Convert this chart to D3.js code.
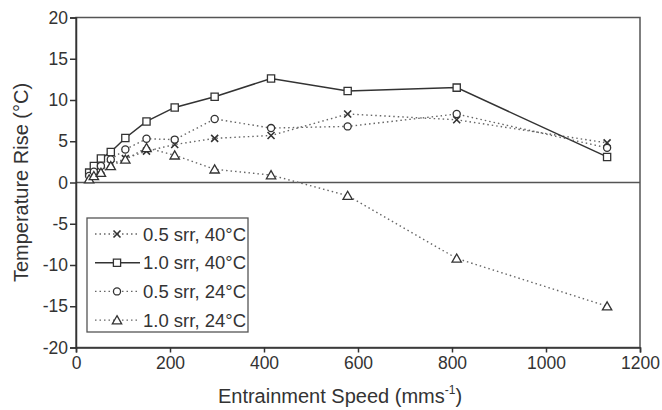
<!DOCTYPE html>
<html>
<head>
<meta charset="utf-8">
<script src="https://cdn.jsdelivr.net/npm/d3@7"></script>
<style>
  body { margin: 0; background: #fff; }
  svg { display: block; font-family: "Liberation Sans", Arial, sans-serif; }
  .axis text { fill: #333; font-size: 17.5px; }
  .axis path, .axis line { stroke: #333; stroke-width: 1.5; }
</style>
</head>
<body>
<script>
"use strict"

// Temperature rise vs entrainment speed

var speeds = [28, 38, 53, 74, 105, 150, 210, 295, 415, 578, 810, 1130]

var rise05at40 = [0.5, 1.0, 1.5, 2.2, 2.9, 3.8, 4.6, 5.35, 5.7, 8.3, 7.6, 4.8]
var rise10at40 = [1.2, 2.0, 2.9, 3.7, 5.4, 7.4, 9.1, 10.4, 12.6, 11.1, 11.5, 3.1]
var rise05at24 = [0.8, 1.3, 2.0, 2.8, 4.0, 5.3, 5.2, 7.7, 6.6, 6.8, 8.3, 4.2]
var rise10at24 = [0.4, 0.8, 1.2, 2.0, 2.8, 4.2, 3.3, 1.6, 0.9, -1.6, -9.2, -15.0]

var seriesLabels = ["0.5 srr, 40°C", "1.0 srr, 40°C", "0.5 srr, 24°C", "1.0 srr, 24°C"]
var xTicks = [0, 200, 400, 600, 800, 1000, 1200]
var yTicks = [-20, -15, -10, -5, 0, 5, 10, 15, 20]

var width = 662
var height = 410
var margin = { top: 17.5, right: 22, bottom: 62.5, left: 76 }

var series = [
  { label: seriesLabels[0], values: rise05at40, marker: "x", dashed: true },
  { label: seriesLabels[1], values: rise10at40, marker: "square", dashed: false },
  { label: seriesLabels[2], values: rise05at24, marker: "circle", dashed: true },
  { label: seriesLabels[3], values: rise10at24, marker: "triangle", dashed: true }
]

var x = d3.scaleLinear()
  .domain([0, 1200])
  .range([margin.left, width - margin.right])

var y = d3.scaleLinear()
  .domain([-20, 20])
  .range([height - margin.bottom, margin.top])

var fmt = function(d) { return String(d) }

var svg = d3.select("body").append("svg")
  .attr("width", width)
  .attr("height", height)

// frame
svg.append("rect")
  .attr("x", x(0))
  .attr("y", y(20))
  .attr("width", x(1200) - x(0))
  .attr("height", y(-20) - y(20))
  .attr("fill", "none")
  .attr("stroke", "#555")
  .attr("stroke-width", 1.5)

// zero line
svg.append("line")
  .attr("x1", x(0))
  .attr("x2", x(1200))
  .attr("y1", y(0))
  .attr("y2", y(0))
  .attr("stroke", "#555")
  .attr("stroke-width", 1.5)

svg.append("g")
  .attr("class", "axis")
  .attr("transform", "translate(" + x(0) + ",0)")
  .call(d3.axisLeft(y).tickValues(yTicks).tickFormat(fmt).tickSize(6).tickPadding(2))

svg.append("g")
  .attr("class", "axis")
  .attr("transform", "translate(0," + y(-20) + ")")
  .call(d3.axisBottom(x).tickValues(xTicks).tickFormat(fmt).tickSize(5).tickPadding(4))

// axis titles
svg.append("text")
  .attr("transform", "translate(28," + ((y(20) + y(-20)) / 2) + ") rotate(-90)")
  .attr("text-anchor", "middle")
  .attr("fill", "#333")
  .style("font-size", "20px")
  .text("Temperature Rise (°C)")

var xt = svg.append("text")
  .attr("x", 340)
  .attr("y", 403)
  .attr("text-anchor", "middle")
  .attr("fill", "#333")
  .style("font-size", "20px")
xt.append("tspan").text("Entrainment Speed (mms")
xt.append("tspan").attr("dy", -9).style("font-size", "12px").text("-1")
xt.append("tspan").attr("dy", 9).text(")")

function drawMarker(g, kind, cx, cy) {
  if (kind === "x") {
    g.append("path")
      .attr("d", "M" + (cx - 3.5) + "," + (cy - 3.5) + "L" + (cx + 3.5) + "," + (cy + 3.5) +
        "M" + (cx - 3.5) + "," + (cy + 3.5) + "L" + (cx + 3.5) + "," + (cy - 3.5))
      .attr("stroke", "#333")
      .attr("stroke-width", 1.6)
      .attr("fill", "none")
  } else {
    var type = kind === "square" ? d3.symbolSquare
      : kind === "circle" ? d3.symbolCircle : d3.symbolTriangle
    var size = kind === "square" ? 52 : kind === "circle" ? 40 : 38
    g.append("path")
      .attr("d", d3.symbol().type(type).size(size)())
      .attr("transform", "translate(" + cx + "," + (kind === "triangle" ? cy + 1 : cy) + ")")
      .attr("fill", "#fff")
      .attr("stroke", "#333")
      .attr("stroke-width", 1.3)
  }
}

var line = d3.line()
  .x(function(d) { return x(d[0]) })
  .y(function(d) { return y(d[1]) })

series.forEach(function(s) {
  var pts = speeds.map(function(v, i) { return [v, s.values[i]] })
  svg.append("path")
    .datum(pts)
    .attr("d", line)
    .attr("fill", "none")
    .attr("stroke", s.dashed ? "#666" : "#333")
    .attr("stroke-width", s.dashed ? 1.4 : 1.5)
    .attr("stroke-dasharray", s.dashed ? "1.5,3" : null)
})

series.forEach(function(s) {
  var g = svg.append("g")
  speeds.forEach(function(v, i) {
    drawMarker(g, s.marker, x(v), y(s.values[i]))
  })
})

// legend
var leg = svg.append("g")
leg.append("rect")
  .attr("x", 87)
  .attr("y", 218)
  .attr("width", 161)
  .attr("height", 114)
  .attr("fill", "#fff")
  .attr("stroke", "#555")
  .attr("stroke-width", 1.3)

series.forEach(function(s, i) {
  var ly = 234 + i * 28.7
  leg.append("line")
    .attr("x1", 95)
    .attr("x2", 140)
    .attr("y1", ly)
    .attr("y2", ly)
    .attr("stroke", s.dashed ? "#666" : "#333")
    .attr("stroke-width", s.dashed ? 1.4 : 1.5)
    .attr("stroke-dasharray", s.dashed ? "1.5,3" : null)
  drawMarker(leg, s.marker, 117, ly)
  leg.append("text")
    .attr("x", 143)
    .attr("y", ly + 6.5)
    .attr("fill", "#333")
    .style("font-size", "18.5px")
    .text(s.label)
})
</script>
</body>
</html>
